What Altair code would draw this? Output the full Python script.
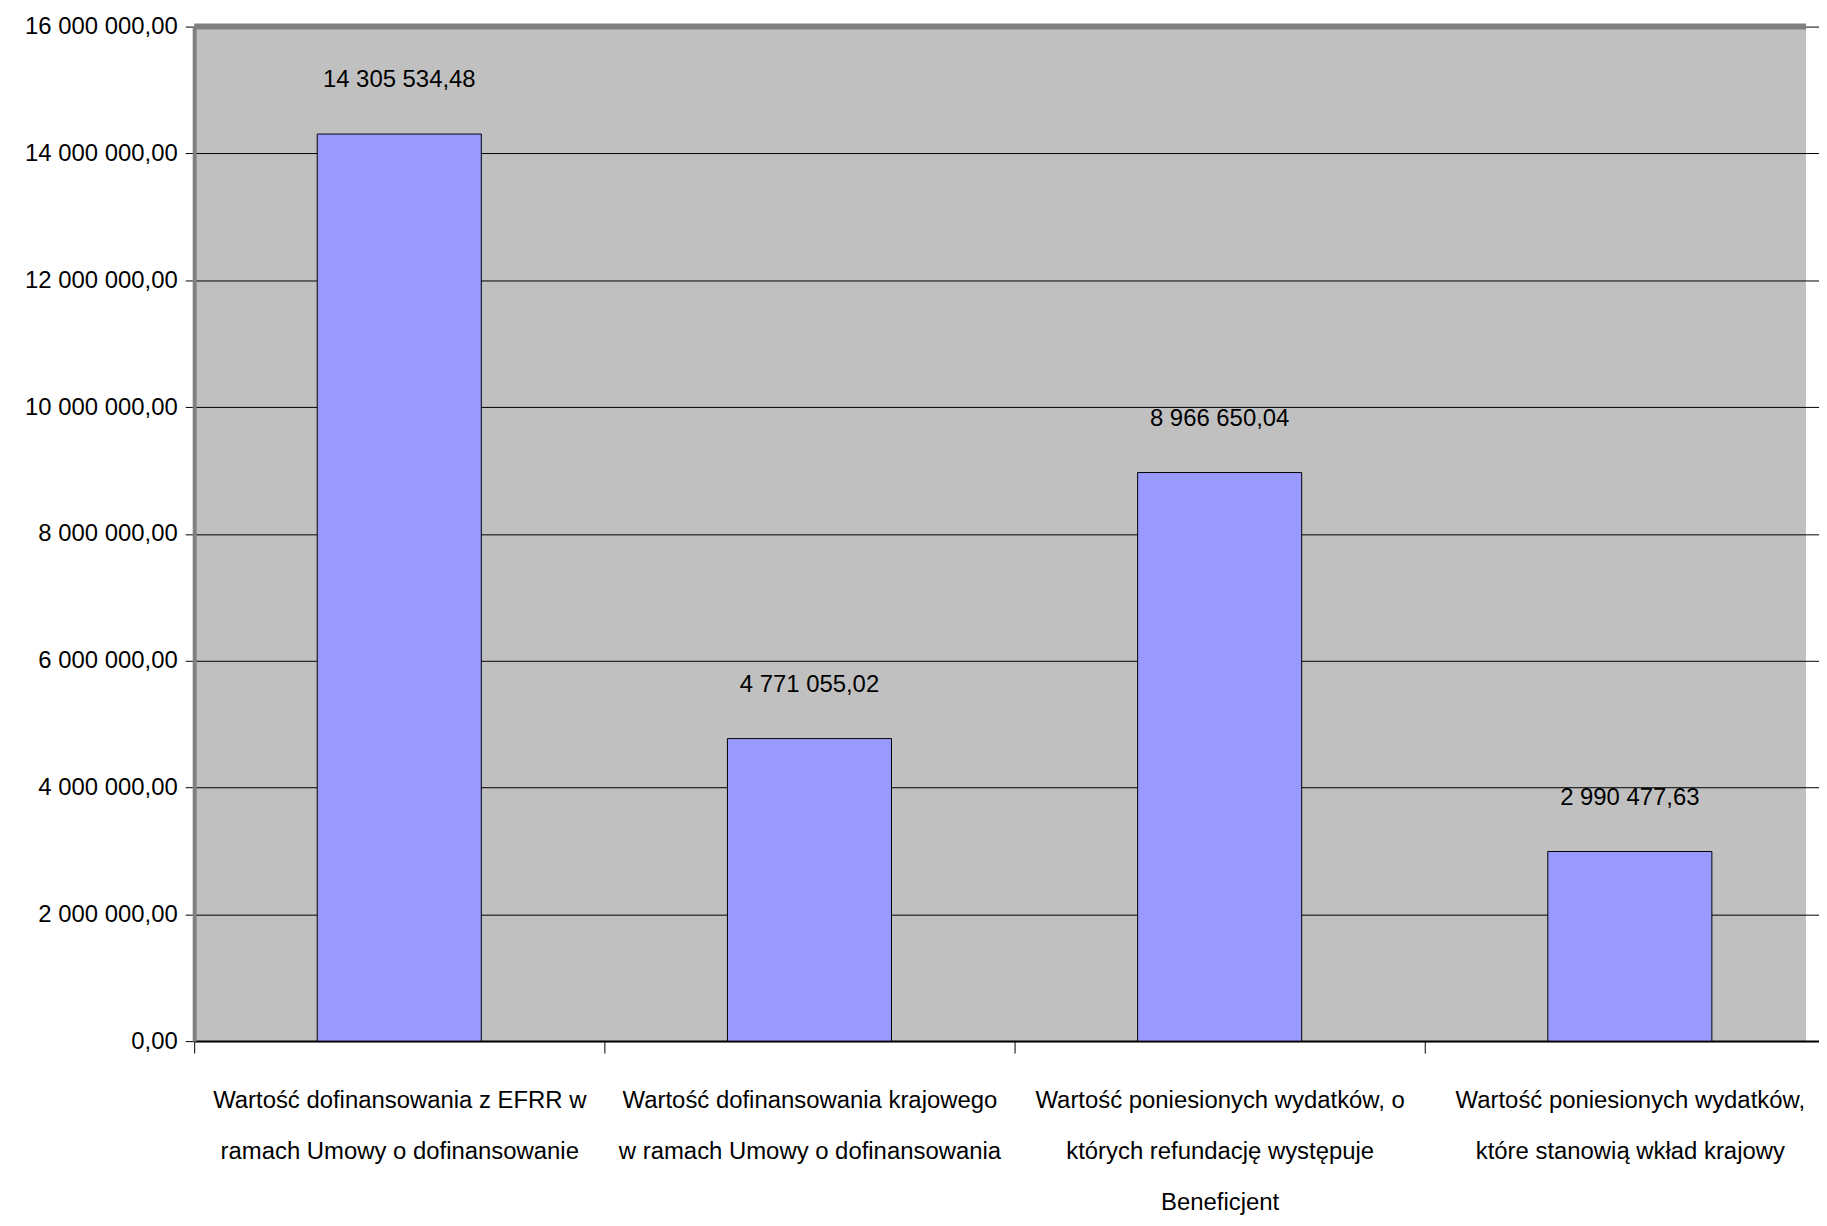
import altair as alt
import pandas as pd

categories = [
    "Wartość dofinansowania z EFRR w|ramach Umowy o dofinansowanie",
    "Wartość dofinansowania krajowego|w ramach Umowy o dofinansowania",
    "Wartość poniesionych wydatków, o|których refundację występuje|Beneficjent",
    "Wartość poniesionych wydatków,|które stanowią wkład krajowy",
]
values = [14305534.48, 4771055.02, 8966650.04, 2990477.63]
y_ticks = [0, 2000000, 4000000, 6000000, 8000000, 10000000, 12000000, 14000000, 16000000]
y_max = 16000000

df = pd.DataFrame({"cat": categories, "val": values})

FONT = "Liberation Sans Narrow, Arial Narrow, Liberation Sans, Arial"
FS = 24
fmt = "replace(replace(format({v}, ',.2f'), regexp(',', 'g'), ' '), '.', ',')"

x = alt.X(
    "cat:N",
    sort=categories,
    title=None,
    scale=alt.Scale(paddingInner=0, paddingOuter=0, range=[0, 1648]),
    axis=alt.Axis(
        labelExpr="split(datum.label, '|')",
        labelAngle=0,
        labelFont=FONT,
        labelFontSize=FS,
        labelColor="black",
        labelLineHeight=51,
        labelBaseline="top",
        labelPadding=36,
        labelLimit=0,
        tickBand="extent",
        tickSize=12,
        tickColor="black",
        domainColor="black",
        domainWidth=2,
        grid=False,
    ),
)

y = alt.Y(
    "val:Q",
    title=None,
    scale=alt.Scale(domain=[0, y_max], nice=False),
    axis=alt.Axis(
        values=y_ticks,
        labelExpr=fmt.format(v="datum.value"),
        labelFont=FONT,
        labelFontSize=FS,
        labelColor="black",
        labelPadding=8,
        tickSize=9,
        tickColor="black",
        domainColor="#808080",
        domainWidth=4,
        gridColor="black",
        gridWidth=1,
        gridOpacity=1,
    ),
)

bars = alt.Chart(df).mark_bar(
    width=alt.RelativeBandSize(0.4), color="#9999FF", stroke="black", strokeWidth=1
).encode(x=x, y=y)

labels = alt.Chart(df).transform_calculate(
    lbl=fmt.format(v="datum.val")
).mark_text(
    dy=-54, baseline="middle", align="center", font=FONT, fontSize=FS, color="black"
).encode(x=x, y=y, text="lbl:N")

top_border = alt.Chart(pd.DataFrame({"val": [y_max]})).mark_rule(
    color="#808080", strokeWidth=6
).encode(y=y)

chart = (
    alt.layer(bars, labels, top_border)
    .properties(
        width=1619,
        height=1019,
        autosize=alt.AutoSizeParams(type="none"),
        padding={"left": 187, "top": 16, "right": 13, "bottom": 176},
        background="white",
    )
    .configure_view(fill="#C0C0C0", stroke=None)
)

chart.save("out.html", embed_options={"renderer": "svg", "actions": False})
